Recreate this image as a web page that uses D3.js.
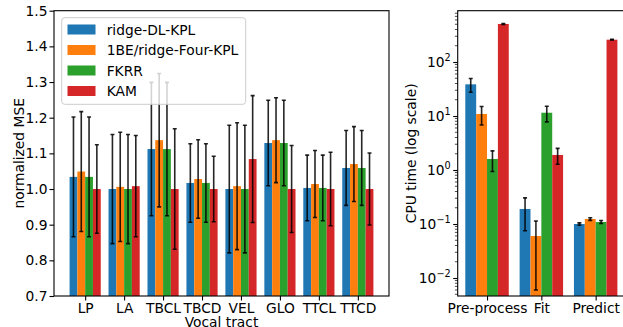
<!DOCTYPE html>
<html><head><meta charset="utf-8">
<script src="https://cdn.jsdelivr.net/npm/d3@7"></script>
<style>
body{margin:0;background:#fff;}
svg{display:block;font-family:"DejaVu Sans",sans-serif;}
</style></head><body>
<svg id="chart" width="623" height="327"></svg>
<script>
const seriesNames = ["ridge-DL-KPL", "1BE/ridge-Four-KPL", "FKRR", "KAM"];
const colors = ["#1f77b4", "#ff7f0e", "#2ca02c", "#d62728"];

// Left panel
const tracts = ["LP", "LA", "TBCL", "TBCD", "VEL", "GLO", "TTCL", "TTCD"];
const mseDL    = [1.034, 1.000, 1.112, 1.017, 1.000, 1.129, 1.003, 1.059];
const mseFour  = [1.049, 1.006, 1.137, 1.028, 1.008, 1.137, 1.014, 1.070];
const mseFKRR  = [1.034, 1.000, 1.112, 1.017, 1.000, 1.129, 1.003, 1.059];
const mseKAM   = [1.000, 1.008, 1.000, 1.000, 1.084, 1.000, 1.000, 1.000];
const errDL    = [0.168, 0.153, 0.187, 0.110, 0.179, 0.120, 0.092, 0.105];
const errFour  = [0.168, 0.153, 0.187, 0.110, 0.178, 0.119, 0.094, 0.105];
const errFKRR  = [0.168, 0.153, 0.187, 0.110, 0.179, 0.120, 0.092, 0.105];
const errKAM   = [0.124, 0.142, 0.169, 0.092, 0.178, 0.122, 0.103, 0.101];
const mseTicks = [0.7, 0.8, 0.9, 1.0, 1.1, 1.2, 1.3, 1.4, 1.5];

// Right panel
const phases = ["Pre-process", "Fit", "Predict"];
const cpuDL   = [38.6, 0.19, 0.100];
const cpuFour = [10.9, 0.060, 0.124];
const cpuFKRR = [1.6, 11.5, 0.109];
const cpuKAM  = [506, 1.9, 259];
const cpuErrDL   = [11, 0.115, 0.005];
const cpuErrFour = [4.1, 0.054, 0.007];
const cpuErrFKRR = [0.66, 3.7, 0.007];
const cpuErrKAM  = [10, 0.62, 3];
const cpuTickExp = [-2, -1, 0, 1, 2];

const svg = d3.select("#chart");
const FS = 13.8;

function drawBars(g, x, y, cats, vals, errs, base) {
  vals.forEach((s, si) => {
    cats.forEach((c, ci) => {
      const xc = ci + (si - 1.5) * 0.2;
      g.append("rect")
        .attr("x", x(xc - 0.1)).attr("width", x(xc + 0.1) - x(xc - 0.1))
        .attr("y", y(s[ci])).attr("height", base - y(s[ci]))
        .attr("fill", colors[si]);
    });
  });
  vals.forEach((s, si) => {
    cats.forEach((c, ci) => {
      const xc = x(ci + (si - 1.5) * 0.2);
      const lo = y(s[ci] - errs[si][ci]), hi = y(s[ci] + errs[si][ci]);
      const eg = g.append("g").attr("stroke", "#000").attr("stroke-opacity", 0.85).attr("stroke-width", 1.6);
      eg.append("line").attr("x1", xc).attr("x2", xc).attr("y1", Math.min(lo, base + 50)).attr("y2", hi);
      eg.append("line").attr("x1", xc - 2).attr("x2", xc + 2).attr("y1", hi).attr("y2", hi);
      if (lo <= base) eg.append("line").attr("x1", xc - 2).attr("x2", xc + 2).attr("y1", lo).attr("y2", lo);
    });
  });
}

// ---------- Left panel ----------
const L = {x0: 54, x1: 389, y0: 10.7, y1: 296};
const xL = d3.scaleLinear().domain([-0.8, 7.8]).range([L.x0, L.x1]);
const yL = d3.scaleLinear().domain([0.7, 1.5]).range([L.y1, L.y0]);
svg.append("defs").append("clipPath").attr("id", "clipL")
  .append("rect").attr("x", L.x0).attr("y", L.y0).attr("width", L.x1 - L.x0).attr("height", L.y1 - L.y0);
const gL = svg.append("g").attr("clip-path", "url(#clipL)");
drawBars(gL, xL, yL, tracts, [mseDL, mseFour, mseFKRR, mseKAM], [errDL, errFour, errFKRR, errKAM], L.y1);

svg.append("rect").attr("x", L.x0).attr("y", L.y0).attr("width", L.x1 - L.x0).attr("height", L.y1 - L.y0)
  .attr("fill", "none").attr("stroke", "#000").attr("stroke-width", 1.1);

const axL = svg.append("g").attr("transform", `translate(${L.x0},0)`)
  .call(d3.axisLeft(yL).tickValues(mseTicks).tickFormat(d3.format(".1f")).tickSize(4.5).tickPadding(2));
const axB = svg.append("g").attr("transform", `translate(0,${L.y1})`)
  .call(d3.axisBottom(xL).tickValues(d3.range(tracts.length)).tickFormat(i => tracts[i]).tickSize(4.5).tickPadding(2.5));
[axL, axB].forEach(a => {
  a.select(".domain").remove();
  a.selectAll("line").attr("stroke", "#000").attr("stroke-width", 1.1);
  a.selectAll("text").attr("font-size", FS).attr("fill", "#000").attr("font-family", "DejaVu Sans");
});
svg.append("text").attr("transform", `translate(23.5,${(L.y0 + L.y1) / 2}) rotate(-90)`)
  .attr("text-anchor", "middle").attr("font-size", FS).text("normalized MSE");
svg.append("text").attr("x", (L.x0 + L.x1) / 2).attr("y", 326.5)
  .attr("text-anchor", "middle").attr("font-size", FS).text("Vocal tract");

// Legend
const leg = svg.append("g");
leg.append("rect").attr("x", 61.7).attr("y", 17.7).attr("width", 184).attr("height", 86.6)
  .attr("rx", 3).attr("fill", "#fff").attr("fill-opacity", 0.8).attr("stroke", "#ccc").attr("stroke-width", 1);
seriesNames.forEach((n, i) => {
  const cy = 29.5 + i * 20.5;
  leg.append("rect").attr("x", 67.5).attr("y", cy - 5).attr("width", 28).attr("height", 10).attr("fill", colors[i]);
  leg.append("text").attr("x", 106.7).attr("y", cy + 5).attr("font-size", FS).text(n);
});

// ---------- Right panel ----------
const R = {x0: 457.7, x1: 625, y0: 10.7, y1: 296};
const xR = d3.scaleLinear().domain([-0.54, 2.54]).range([R.x0, R.x1]);
const yR = d3.scaleLog().domain([Math.pow(10, -2.333), Math.pow(10, 2.95)]).range([R.y1, R.y0]);
svg.append("defs").append("clipPath").attr("id", "clipR")
  .append("rect").attr("x", R.x0).attr("y", R.y0).attr("width", R.x1 - R.x0).attr("height", R.y1 - R.y0);
const gR = svg.append("g").attr("clip-path", "url(#clipR)");
drawBars(gR, xR, yR, phases, [cpuDL, cpuFour, cpuFKRR, cpuKAM], [cpuErrDL, cpuErrFour, cpuErrFKRR, cpuErrKAM], R.y1);

svg.append("rect").attr("x", R.x0).attr("y", R.y0).attr("width", R.x1 - R.x0).attr("height", R.y1 - R.y0)
  .attr("fill", "none").attr("stroke", "#000").attr("stroke-width", 1.1);

// minor ticks
const minor = [];
for (let e = -3; e <= 2; e++) for (let m = 2; m <= 9; m++) {
  const v = m * Math.pow(10, e);
  if (v >= yR.domain()[0] && v <= yR.domain()[1]) minor.push(v);
}
svg.append("g").selectAll("line").data(minor).join("line")
  .attr("x1", R.x0 - 2.8).attr("x2", R.x0).attr("y1", d => yR(d)).attr("y2", d => yR(d))
  .attr("stroke", "#000").attr("stroke-width", 0.7);

const axR = svg.append("g").attr("transform", `translate(${R.x0},0)`)
  .call(d3.axisLeft(yR).tickValues(cpuTickExp.map(e => Math.pow(10, e))).tickFormat("").tickSize(4.5));
axR.select(".domain").remove();
axR.selectAll("line").attr("stroke", "#000").attr("stroke-width", 1.1);
cpuTickExp.forEach(e => {
  const t = svg.append("text").attr("x", R.x0 - 7).attr("y", yR(Math.pow(10, e)) + 5)
    .attr("text-anchor", "end").attr("font-size", FS);
  t.append("tspan").text("10");
  t.append("tspan").attr("dy", -6).attr("font-size", 9.7).text(e < 0 ? "\u2212" + (-e) : String(e));
});
const axRB = svg.append("g").attr("transform", `translate(0,${R.y1})`)
  .call(d3.axisBottom(xR).tickValues(d3.range(phases.length)).tickFormat(i => phases[i]).tickSize(4.5).tickPadding(2.5));
axRB.select(".domain").remove();
axRB.selectAll("line").attr("stroke", "#000").attr("stroke-width", 1.1);
axRB.selectAll("text").attr("font-size", FS).attr("fill", "#000").attr("font-family", "DejaVu Sans");
svg.append("text").attr("transform", `translate(416,${(R.y0 + R.y1) / 2}) rotate(-90)`)
  .attr("text-anchor", "middle").attr("font-size", FS).text("CPU time (log scale)");
</script>
</body></html>
